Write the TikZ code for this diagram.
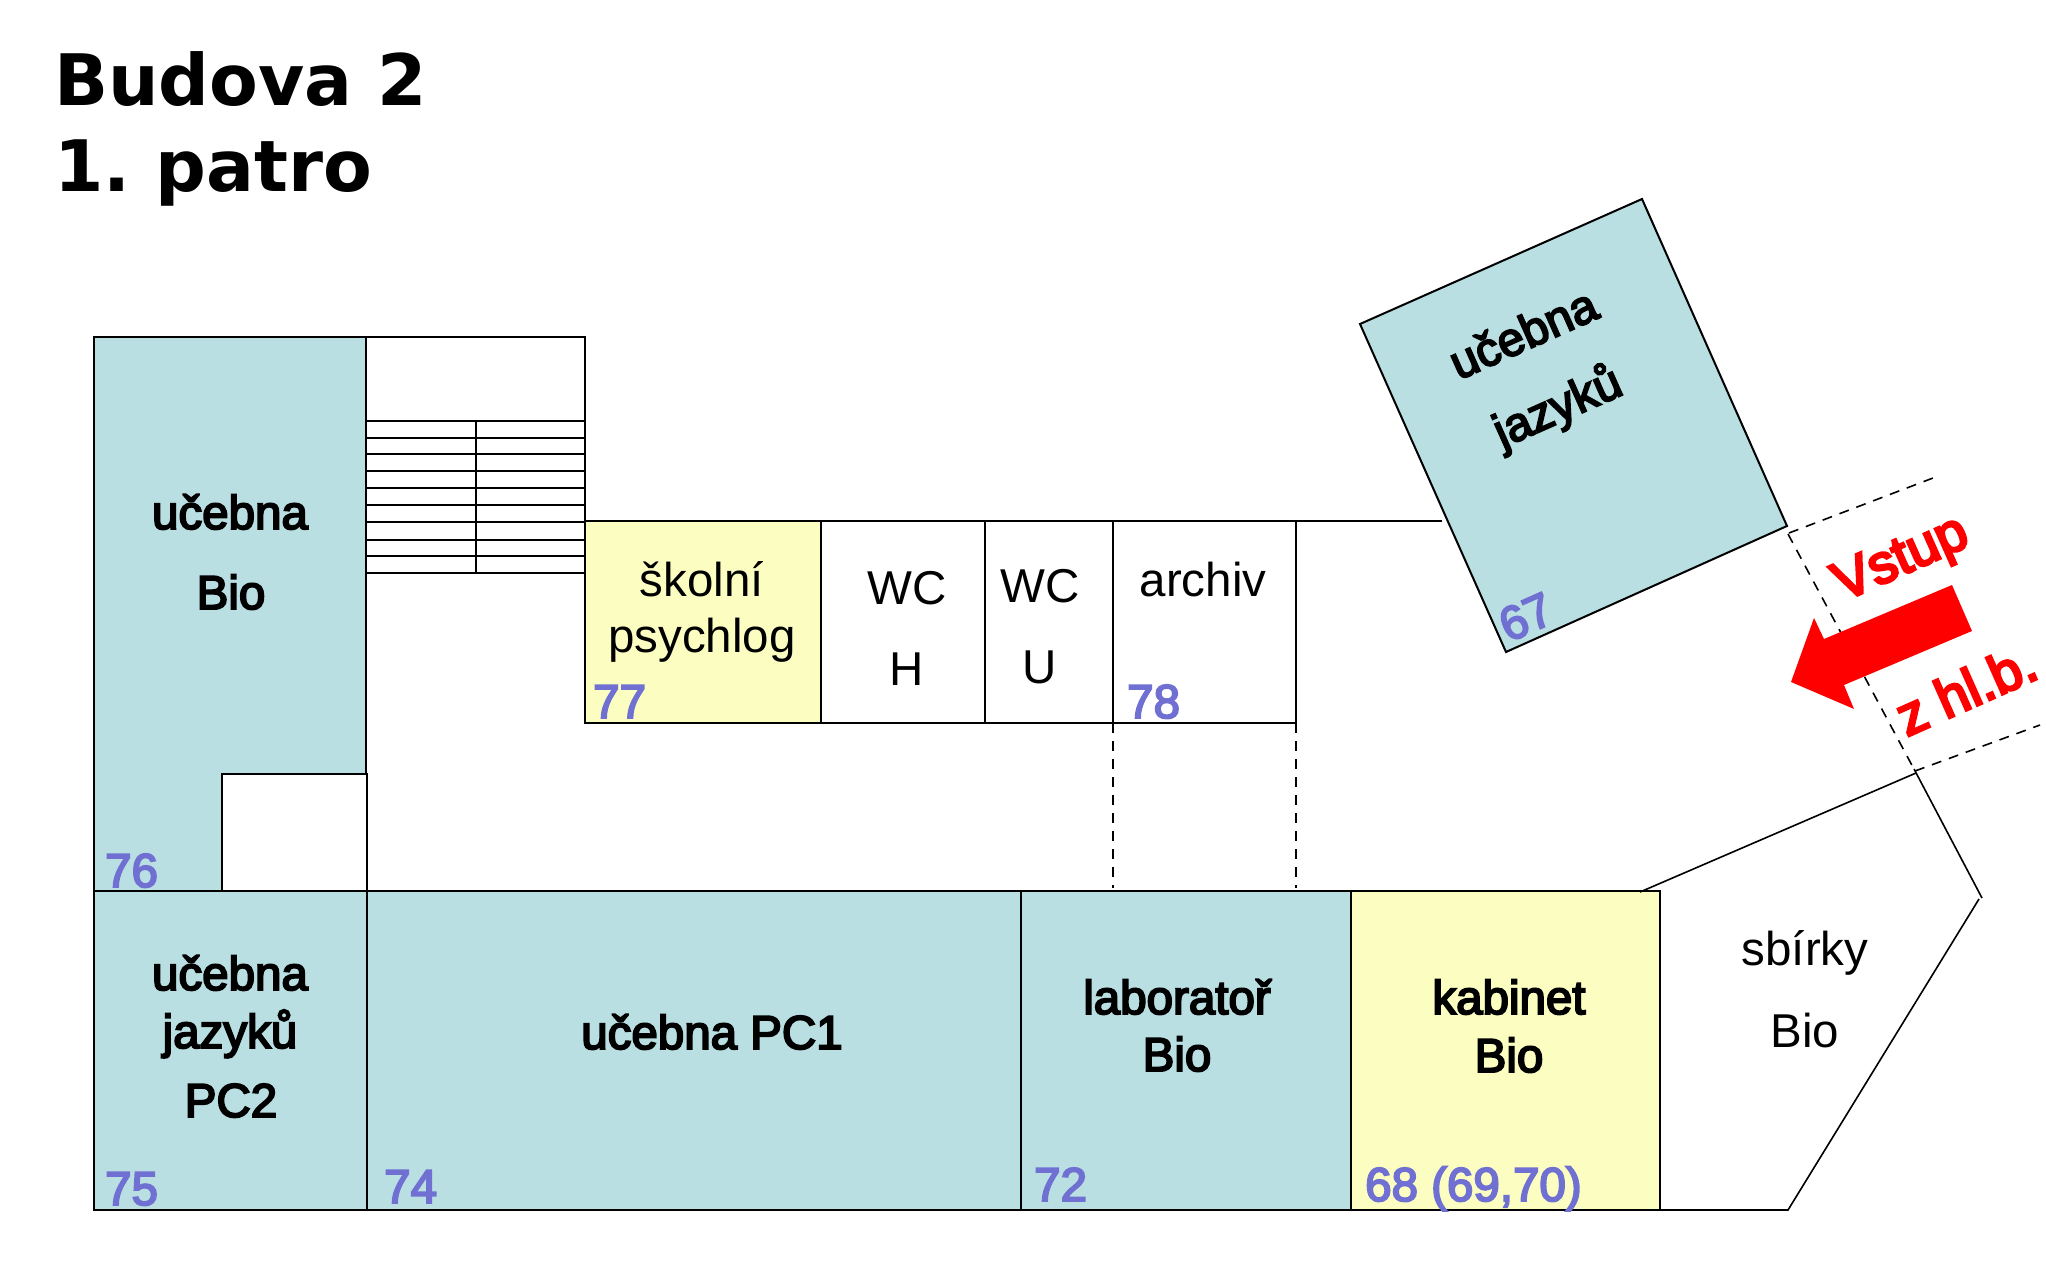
\documentclass[tikz,border=0pt]{standalone}
\usepackage{fontspec}
\setmainfont{Liberation Sans}
\newfontfamily\dejabold{DejaVu Sans Bold}
\newfontfamily\fakeb[FakeBold=4]{Liberation Sans}
\newfontfamily\fakered[FakeBold=5]{Liberation Sans}
\definecolor{roomblue}{HTML}{B9DFE2}
\definecolor{roomyellow}{HTML}{FBFDC1}
\definecolor{numblue}{HTML}{7070D2}
\definecolor{entryred}{HTML}{FF0000}
\tikzset{
  wall/.style={draw=black,line width=2pt,line join=miter},
  thinwall/.style={draw=black,line width=1.6pt},
  dashwall/.style={draw=black,line width=1.6pt,dash pattern=on 10pt off 8pt},
  bluebox/.style={wall,fill=roomblue},
  yellowbox/.style={wall,fill=roomyellow},
  plain/.style={anchor=base,inner sep=0pt,font=\fontsize{47.5}{47.5}\selectfont},
  heavy/.style={anchor=base,inner sep=0pt,font=\fontsize{47.5}{47.5}\fakeb},
  num/.style={anchor=base west,inner sep=0pt,text=numblue,font=\fontsize{47.5}{47.5}\fakeb},
  titletext/.style={anchor=base west,inner sep=0pt,font=\fontsize{71}{71}\dejabold},
  redtext/.style={inner sep=0pt,text=entryred,rotate=24,font=\fontsize{55}{55}\fakered},
  rotlab/.style={inner sep=0pt,rotate=24,font=\fontsize{47.5}{47.5}\fakeb}
}
\begin{document}
\begin{tikzpicture}[x=1pt,y=-1pt]
\useasboundingbox (0,0) rectangle (2046,1274);
% title
\node[titletext] (t1) at (54,105) {Budova 2};
\node[titletext] (t2) at (54,191) {1.\kern-8pt{} patro};
% blue rooms
\path[bluebox] (94,337) -- (366,337) -- (366,891) -- (94,891) -- cycle;
\path[wall,fill=white] (222,891) -- (222,774) -- (367,774) -- (367,891);
\path[bluebox] (94,891) rectangle (367,1210);
\path[bluebox] (367,891) rectangle (1021,1210);
\path[bluebox] (1021,891) rectangle (1351,1210);
\path[yellowbox] (1351,891) rectangle (1660,1210);
% stairs
\draw[wall] (366,337) -- (585,337) -- (585,521);
\draw[wall] (366,421) rectangle (585,573);
\foreach \yy in {438,454,471,488,505,522,540,556}
  \draw[wall] (366,\yy) -- (585,\yy);
\draw[wall] (476,421) -- (476,573);
% middle row
\path[yellowbox] (585,521) rectangle (821,723);
\draw[wall] (821,521) rectangle (985,723);
\draw[wall] (985,521) rectangle (1113,723);
\draw[wall] (1113,521) rectangle (1296,723);
\draw[wall] (1296,521) -- (1442,521);
\draw[dashwall] (1113,723) -- (1113,888);
\draw[dashwall] (1296,723) -- (1296,888);
% rotated room
\path[bluebox] (1642,199) -- (1360,324) -- (1506,652) -- (1787,526) -- cycle;
% sbirky
\draw[thinwall] (1640,892) -- (1916,773);
\draw[thinwall] (1914,769) -- (1982,898);
\draw[thinwall] (1979,899) -- (1788,1210) -- (1660,1210);
% entrance
\draw[dashwall] (1789,533) -- (1933,478);
\draw[dashwall] (1788,534) -- (1915,771);
\draw[dashwall] (1915,771) -- (2040,725);
\path[fill=entryred] (1791,682) -- (1814,618) -- (1824,639) -- (1952,585) -- (1972,631) -- (1844,685) -- (1854,709) -- cycle;
% labels
\node[heavy] (a1) at (230,529) {učebna};
\node[heavy] (a2) at (231,609) {Bio};
\node[heavy] (b1) at (230,990) {učebna};
\node[heavy] (b2) at (230,1048) {jazyků};
\node[heavy] (b3) at (231,1117) {PC2};
\node[heavy] (c1) at (712,1049) {učebna PC1};
\node[heavy] (d1) at (1177,1014) {laboratoř};
\node[heavy] (d2) at (1177,1071) {Bio};
\node[heavy] (e1) at (1509,1014) {kabinet};
\node[heavy] (e2) at (1509,1072) {Bio};
\node[plain] (f1) at (1805,965) {sbírky};
\node[plain] (f2) at (1805,1047) {Bio};
\node[plain] (g1) at (702,596) {školní};
\node[plain] (g2) at (702,652) {psychlog};
\node[plain] (h1) at (907,604) {WC};
\node[plain] (h2) at (907,685) {H};
\node[plain] (i1) at (1040,602) {WC};
\node[plain] (i2) at (1040,683) {U};
\node[plain] (j1) at (1203,596) {archiv};
% numbers
\node[num] (n76) at (105,887) {76};
\node[num] (n75) at (105,1205) {75};
\node[num] (n74) at (384,1203) {74};
\node[num] (n72) at (1034,1201) {72};
\node[num] (n68) at (1365,1201) {68 (69,70)};
\node[num] (n77) at (593,718) {77};
\node[num] (n78) at (1127,718) {78};
\node[num,anchor=center,rotate=24] (n67) at (1526,617) {67};
% rotated labels
\node[rotlab] (k1) at (1523,333) {učebna};
\node[rotlab] (k2) at (1558,408) {jazyků};
\node[redtext] (v1) at (1902,561) {Vstup};
\node[redtext] (v2) at (1966,689) {z hl.b.};
\end{tikzpicture}
\end{document}
